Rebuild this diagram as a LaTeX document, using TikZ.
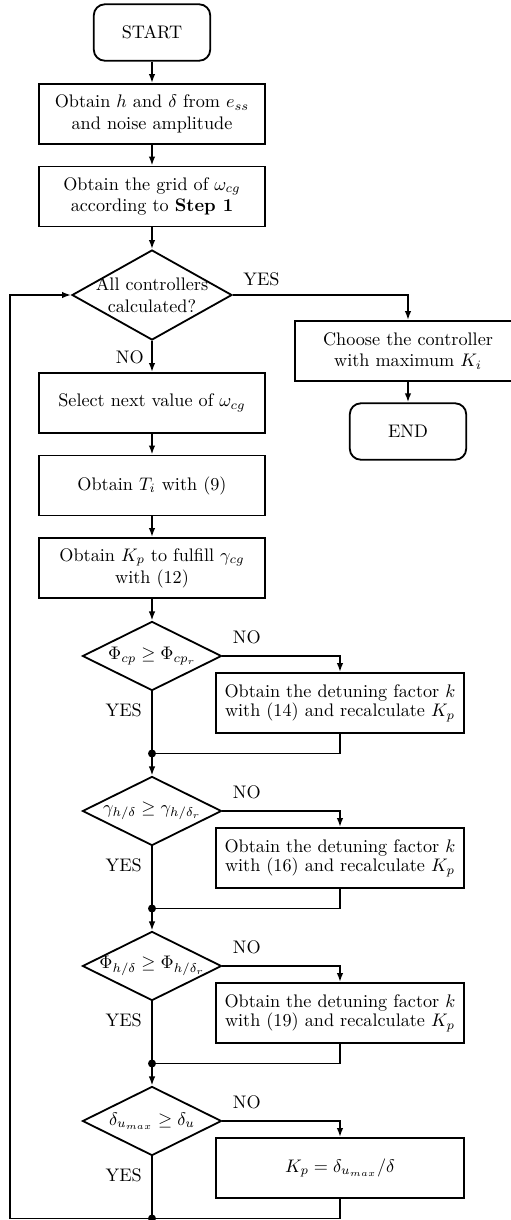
\documentclass[tikz,border=0pt]{standalone}
\usepackage{amsmath}
\usepackage{amssymb}
\usepackage{tikz}
\tikzset{>=latex}
\usetikzlibrary{shapes.geometric, arrows.meta, positioning}

\tikzset{
  block/.style={draw, line width=1pt, minimum width=124pt, minimum height=33pt, align=center},
  detune/.style={block, minimum width=136pt},
  terminal/.style={draw, line width=1pt, rounded corners=6pt, minimum width=64pt, minimum height=31pt},
  decision/.style={draw, diamond, line width=1pt, inner sep=0pt, minimum width=76.5pt, minimum height=38pt},
  main/.style={line width=1.5pt},
  side/.style={line width=0.9pt},
  arr/.style={-{Latex[length=5pt,width=3.6pt]}},
}

\begin{document}
\begin{tikzpicture}[x=0.55pt, y=-0.55pt]
\useasboundingbox (0,0) rectangle (511,1220);

 % Main column
 \node[terminal] (start) at (152,32.5) {START};
 \node[block] (amp) at (152,114) {Obtain $h$ and $\delta$ from $e_{ss}$\\and noise amplitude};
 \node[block] (grid) at (152,196.5) {Obtain the grid of $\omega_{cg}$\\according to \textbf{Step 1}};
 \node[decision, minimum width=88pt, minimum height=49.5pt,
       label={[align=center]center:All controllers\\calculated?}] (d1) at (152,295) {};
 \node[block] (sel) at (152,403) {Select next value of $\omega_{cg}$};
 \node[block] (ti) at (152,485.5) {Obtain $T_i$ with (9)};
 \node[block] (kp) at (152,568) {Obtain $K_p$ to fulfill $\gamma_{cg}$\\with (12)};

 % Exit branch
 \node[block] (choose) at (408,351) {Choose the controller\\with maximum $K_i$};
 \node[terminal] (stop) at (408,431.5) {END};

 \foreach \a/\b in {start/amp, amp/grid, grid/d1, d1/sel, sel/ti, ti/kp}{
    \draw[main, arr] (\a) -- (\b);
 }
 \draw[side, arr] (d1.east) node[above right=1pt and 2pt] {YES} -| (choose.north);
 \draw[main, arr] (choose) -- (stop);
 \node[below left=2pt and 1pt] (no1) at (d1.south) {NO};

 % Checks and detuning
 \foreach \n/\dy/\cond/\act in {
    2/656/{$\Phi_{cp}\geq\Phi_{cp_r}$}/{Obtain the detuning factor $k$\\[-1.5pt]with (14) and recalculate $K_p$},
    3/811/{$\gamma_{h/\delta}\geq\gamma_{h/\delta_r}$}/{Obtain the detuning factor $k$\\[-1.5pt]with (16) and recalculate $K_p$},
    4/966/{$\Phi_{h/\delta}\geq\Phi_{h/\delta_r}$}/{Obtain the detuning factor $k$\\[-1.5pt]with (19) and recalculate $K_p$},
    5/1121/{$\delta_{u_{max}}\geq\delta_u$}/{$K_p=\delta_{u_{max}}/\delta$}}{
    \node[decision, label=center:{\cond}] (d\n) at (152,\dy) {};
    \node[detune] (b\n) at (340,\dy+47) {\act};
    \coordinate (j\n) at (152,\dy+97.5);

    \draw[side, arr] (d\n.east) node[above right=3pt and 2pt] {NO} -| (b\n.north);
    \draw[main] (d\n.south) node[below left=2.5pt and 1.5pt] {YES} -- (j\n);
    \draw[side] (b\n.south) |- (j\n);
    \fill (j\n) circle[radius=2.2pt];
 }

 \foreach \a/\b in {kp/d2, j2/d3, j3/d4, j4/d5}{
    \draw[main, arr] (\a) -- (\b);
 }

 % Loop back
 \coordinate (lp) at (10,1218.5);
 \draw[side, line width=1pt, arr] (j5) -- (lp) |- (d1.west);

\end{tikzpicture}
\end{document}
